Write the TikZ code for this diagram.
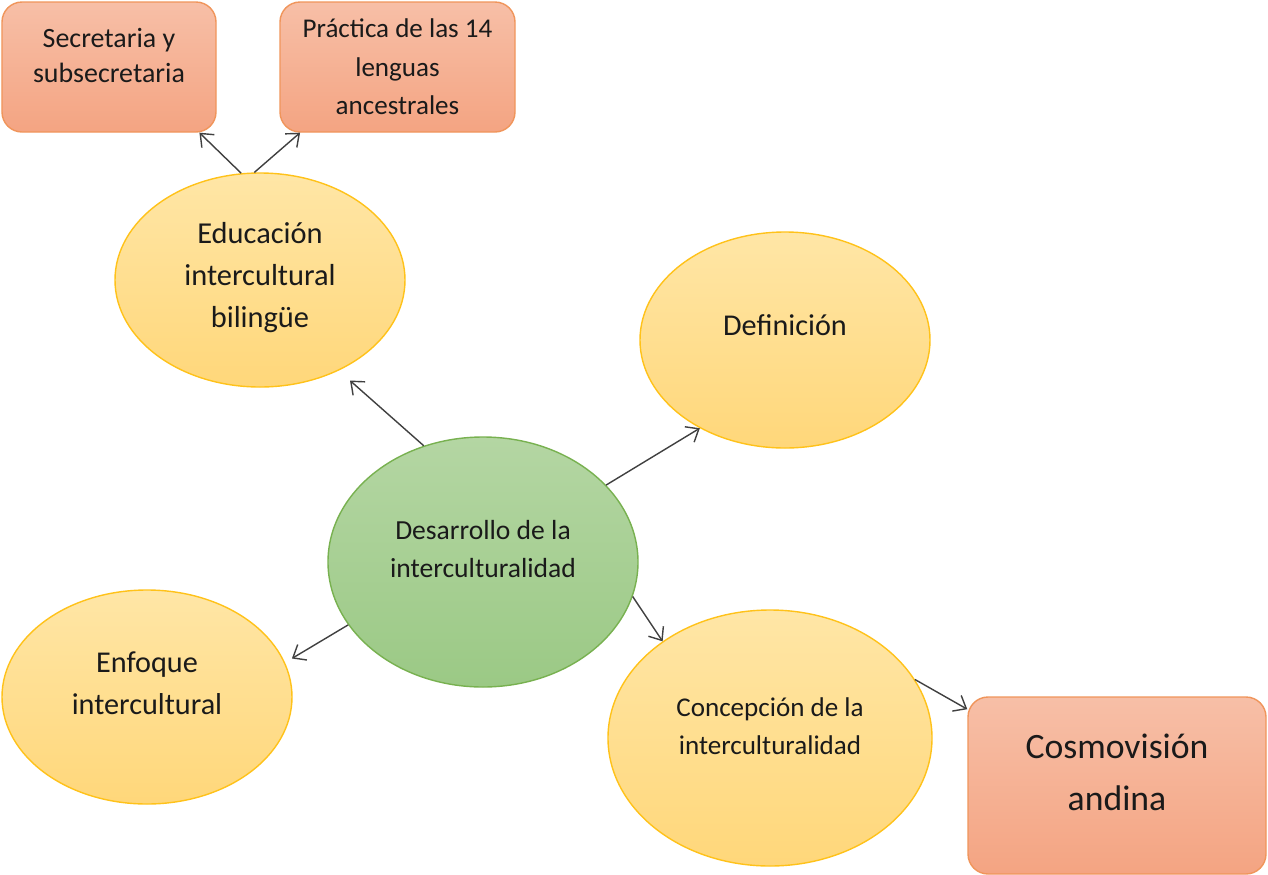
\documentclass[tikz,border=0pt]{standalone}
\usepackage{fontspec}
\setmainfont{Carlito}
\usetikzlibrary{shapes.geometric,arrows.meta}
\definecolor{boxtop}{HTML}{F7BFA7}
\definecolor{boxbot}{HTML}{F4A482}
\definecolor{boxline}{HTML}{F0955B}
\definecolor{yeltop}{HTML}{FFE6A6}
\definecolor{yelbot}{HTML}{FFD77A}
\definecolor{yelline}{HTML}{FFC21A}
\definecolor{grntop}{HTML}{B4D6A3}
\definecolor{grnbot}{HTML}{9BC985}
\definecolor{grnline}{HTML}{78B150}
\definecolor{linkgray}{HTML}{404040}
\definecolor{textdark}{HTML}{1A1A1A}
\tikzset{
  redbox/.style={draw=boxline, line width=0.8pt, rounded corners=0.4cm, top color=boxtop, bottom color=boxbot, inner sep=0pt},
  yelcircle/.style={ellipse, draw=yelline, line width=0.8pt, top color=yeltop, bottom color=yelbot, inner sep=0pt},
  grncircle/.style={ellipse, draw=grnline, line width=0.8pt, top color=grntop, bottom color=grnbot, inner sep=0pt},
  txt/.style={align=center, text=textdark},
  link/.style={draw=linkgray, line width=0.8pt, -{Straight Barb[length=2.2mm,width=3.6mm]}}
}
\begin{document}
\begin{tikzpicture}
\useasboundingbox (0,0) rectangle (25.36,-17.48);
\node[redbox, minimum width=4.28cm, minimum height=2.6cm,
  label={[txt, font=\fontsize{15.9}{19.8}\selectfont, yshift=0.23cm]center:{Secretaria y\\subsecretaria}}] (sec) at (2.18,-1.34) {};
\node[redbox, minimum width=4.7cm, minimum height=2.6cm,
  label={[txt, font=\fontsize{15.4}{21.8}\selectfont]center:{Práctica de las 14\\lenguas\\ancestrales}}] (prac) at (7.95,-1.34) {};
\node[redbox, minimum width=5.96cm, minimum height=3.54cm,
  label={[txt, font=\fontsize{20.3}{29.5}\selectfont, yshift=0.27cm]center:{Cosmovisión\\andina}}] (cosmo) at (22.34,-15.71) {};
\node[yelcircle, minimum width=5.8cm, minimum height=4.28cm,
  label={[txt, font=\fontsize{17.3}{23.8}\selectfont, yshift=0.05cm]center:{Educación\\intercultural\\bilingüe}}] (edu) at (5.2,-5.6) {};
\node[yelcircle, minimum width=5.8cm, minimum height=4.32cm,
  label={[txt, font=\fontsize{17.2}{23.8}\selectfont, yshift=0.3cm]center:Definición}] (def) at (15.7,-6.8) {};
\node[grncircle, minimum width=6.2cm, minimum height=5cm,
  label={[txt, font=\fontsize{15.7}{21.5}\selectfont, yshift=0.26cm]center:{Desarrollo de la\\interculturalidad}}] (des) at (9.66,-11.24) {};
\node[yelcircle, minimum width=5.8cm, minimum height=4.28cm,
  label={[txt, font=\fontsize{17.2}{23.8}\selectfont, yshift=0.28cm]center:{Enfoque\\intercultural}}] (enf) at (2.94,-13.94) {};
\node[yelcircle, minimum width=6.48cm, minimum height=5.12cm,
  label={[txt, font=\fontsize{15.4}{21.5}\selectfont, yshift=0.24cm]center:{Concepción de la\\interculturalidad}}] (con) at (15.4,-14.76) {};
% connectors
\draw[link] (edu.100.5) -- (sec.-36);
\draw[link] (edu.93.7) -- (prac.-146.3);
\draw[link, shorten >=0.3cm] (des.117.9) -- (edu.-49.5);
\draw[link] (des.32) -- (def.-134.3);
\draw[link, shorten >=0.16cm] (des.-155.1) -- (enf.14.3);
\draw[link] (des.-13.2) -- (con.138.1);
\draw[link] (con.22.5) -- (cosmo.153);
\end{tikzpicture}
\end{document}
